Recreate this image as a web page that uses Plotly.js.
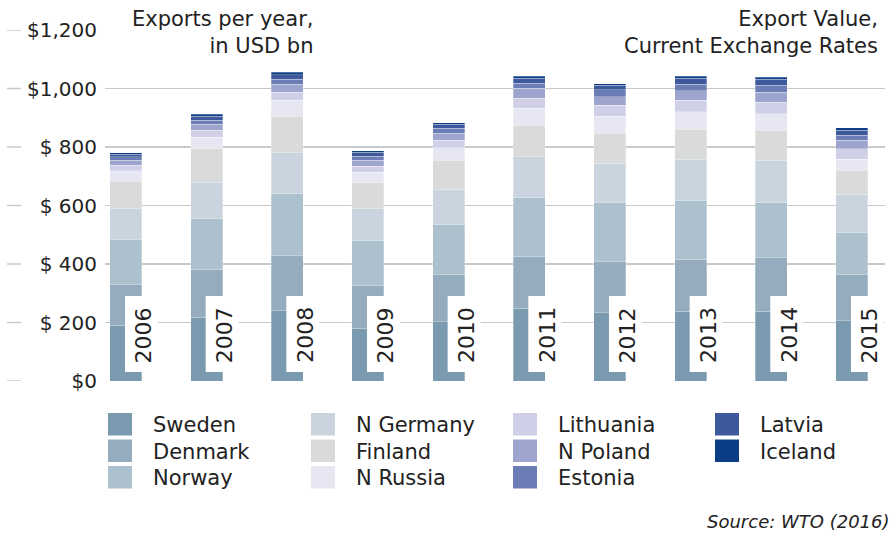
<!DOCTYPE html>
<html>
<head>
<meta charset="utf-8">
<script src="https://cdn.plot.ly/plotly-3.0.1.min.js"></script>
<style>html,body{margin:0;padding:0;background:#fff;}#chart{width:889px;height:533px;}</style>
</head>
<body>
<div id="chart"></div>
<script>
// ---- data (USD bn) ----
const years = ['2006','2007','2008','2009','2010','2011','2012','2013','2014','2015'];
const countries = ['Sweden','Denmark','Norway','N Germany','Finland','N Russia','Lithuania','N Poland','Estonia','Latvia','Iceland'];
const sweden    = [190, 218, 240, 180, 203, 249, 234, 238, 238, 206];
const denmark   = [139, 163, 189, 147, 160, 177, 173, 179, 183, 158];
const norway    = [154, 174, 211, 153, 172, 200, 204, 201, 190, 144];
const nGermany  = [107, 125, 141, 109, 120, 140, 134, 140, 143, 131];
const finland   = [ 93, 115, 125,  89,  99, 108, 102, 102, 103,  81];
const nRussia   = [ 35,  39,  54,  36,  44,  58,  59,  60,  57,  38];
const lithuania = [ 19,  23,  28,  21,  25,  34,  36,  40,  39,  36];
const nPoland   = [ 17,  21,  27,  20,  24,  35,  29,  32,  35,  29];
const estonia   = [ 13,  14,  17,  14,  17,  17,  24,  23,  23,  18];
const latvia    = [  8,  14,  15,  13,  14,  17,  16,  20,  21,  17];
const iceland   = [  5,   6,   8,   6,   5,   7,   6,   7,   7,   8];
const tickVals  = [0, 200, 400, 600, 800, 1000, 1200];
const tickText  = ['$0', '$ 200', '$ 400', '$ 600', '$ 800', '$1,000', '$1,200'];

// ---- styles ----
const series = [sweden, denmark, norway, nGermany, finland, nRussia, lithuania, nPoland, estonia, latvia, iceland];
const colors = ['#7a9aaf','#94acbe','#adc0cd','#c9d4de','#d9dbda','#e7e7f3','#cfd0e8','#9da4cd','#6c7db5','#3e5a9d','#0c3e88'];
const FONT = 'DejaVu Sans, sans-serif';
const TXT = '#222222';
const GRID = '#c9c9c9';
const W = 889, H = 533, ML = 105, MR = 4, MT = 30, MB = 152;
const PW = W - ML - MR, PH = H - MT - MB;
const px2x = px => (px - ML) / PW;
const py2y = py => (H - MB - py) / PH;

const traces = series.map((vals, i) => ({
  type: 'bar',
  name: countries[i],
  x: years,
  y: vals,
  marker: {color: colors[i], line: {color: 'rgba(255,255,255,0.45)', width: 0.6}},
  showlegend: false,
  hoverinfo: 'x+y+name'
}));

const shapes = [];
const annotations = [];

// short grid segments left of tick labels
tickVals.forEach(v => {
  shapes.push({type: 'line', xref: 'paper', yref: 'y', x0: px2x(7), x1: px2x(21), y0: v, y1: v,
    line: {color: GRID, width: 1.5}, layer: 'below'});
});

// year labels in white boxes over the bars
years.forEach((yr, i) => {
  shapes.push({type: 'rect', xref: 'x', yref: 'paper', x0: i - 0.012, x1: i + 0.397,
    y0: py2y(372), y1: py2y(296), fillcolor: '#ffffff', line: {width: 0}, layer: 'above'});
  annotations.push({text: yr, xref: 'x', yref: 'paper', x: i + 0.217, y: py2y(335),
    xanchor: 'center', yanchor: 'middle', textangle: -90, showarrow: false,
    font: {family: FONT, size: 22, color: TXT}});
});

// titles (white boxes interrupt the top gridline)
shapes.push({type: 'rect', xref: 'paper', yref: 'paper', x0: px2x(118), x1: px2x(321),
  y0: py2y(58), y1: py2y(6), fillcolor: '#ffffff', line: {width: 0}, layer: 'above'});
shapes.push({type: 'rect', xref: 'paper', yref: 'paper', x0: px2x(493), x1: px2x(884),
  y0: py2y(58), y1: py2y(6), fillcolor: '#ffffff', line: {width: 0}, layer: 'above'});
annotations.push({text: 'Exports per year,<br>in USD bn', xref: 'paper', yref: 'paper',
  x: px2x(315), xanchor: 'right', y: py2y(33), yanchor: 'middle', align: 'right',
  showarrow: false, font: {family: FONT, size: 21, color: TXT}});
annotations.push({text: 'Export Value,<br>Current Exchange Rates', xref: 'paper', yref: 'paper',
  x: px2x(880), xanchor: 'right', y: py2y(33), yanchor: 'middle', align: 'right',
  showarrow: false, font: {family: FONT, size: 21, color: TXT}});

// legend (column-major, 3 rows)
const colLeft = [108, 311, 513, 715];
const rowTop = [413, 439.5, 466];
countries.forEach((c, i) => {
  const col = Math.floor(i / 3), row = i % 3;
  const x0 = colLeft[col], y0 = rowTop[row];
  shapes.push({type: 'rect', xref: 'paper', yref: 'paper', x0: px2x(x0), x1: px2x(x0 + 24),
    y0: py2y(y0 + 22.5), y1: py2y(y0), fillcolor: colors[i], line: {width: 0}});
  annotations.push({text: c, xref: 'paper', yref: 'paper', x: px2x(x0 + 43), xanchor: 'left',
    y: py2y(y0 + 12), yanchor: 'middle', showarrow: false,
    font: {family: FONT, size: 21, color: TXT}});
});

// source
annotations.push({text: '<i>Source: WTO (2016)</i>', xref: 'paper', yref: 'paper',
  x: px2x(705), xanchor: 'left', y: py2y(521), yanchor: 'middle', showarrow: false,
  font: {family: FONT, size: 18, color: TXT}});

const layout = {
  width: W, height: H,
  margin: {l: ML, r: MR, t: MT, b: MB, pad: 0},
  paper_bgcolor: '#ffffff', plot_bgcolor: '#ffffff',
  barmode: 'stack', bargap: 0.603,
  showlegend: false,
  font: {family: FONT, color: TXT},
  xaxis: {type: 'category', range: [-0.26, 9.41], showticklabels: false, showgrid: false,
    zeroline: false, showline: false, ticks: '', fixedrange: true},
  yaxis: {range: [0, 1200], tickvals: tickVals, ticktext: tickText, showgrid: true,
    gridcolor: GRID, gridwidth: 1.5, zeroline: false, showline: false,
    ticks: 'outside', ticklen: 3, tickcolor: 'rgba(0,0,0,0)',
    tickfont: {family: FONT, size: 20, color: TXT}, fixedrange: true},
  shapes: shapes,
  annotations: annotations
};

Plotly.newPlot('chart', traces, layout, {displayModeBar: false, staticPlot: true});
</script>
</body>
</html>
